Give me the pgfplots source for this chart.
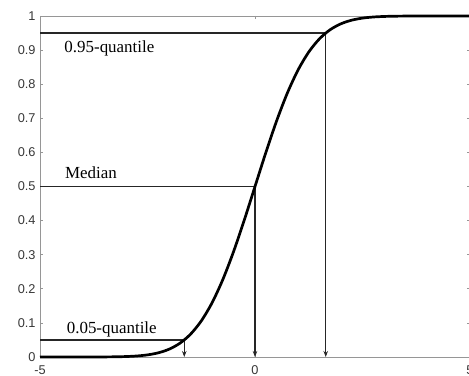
\documentclass[border=0pt]{standalone}
\usepackage{pgfplots}
\pgfplotsset{compat=1.18}
\usepackage{fontspec}
\setmainfont{Liberation Serif}
\newfontfamily\ticksfont{Liberation Sans}
\usetikzlibrary{arrows.meta}
\definecolor{axisgray}{RGB}{150,150,150}
\definecolor{labelgray}{RGB}{55,55,55}

% standard normal CDF, sampled every 0.25
\pgfplotstableread{
x      p
-5.00  0.0000003
-4.75  0.0000010
-4.50  0.0000034
-4.25  0.0000107
-4.00  0.0000317
-3.75  0.0000884
-3.50  0.0002326
-3.25  0.0005770
-3.00  0.0013499
-2.75  0.0029798
-2.50  0.0062097
-2.25  0.0122245
-2.00  0.0227501
-1.75  0.0400592
-1.50  0.0668072
-1.25  0.1056498
-1.00  0.1586553
-0.75  0.2266274
-0.50  0.3085375
-0.25  0.4012937
 0.00  0.5000000
 0.25  0.5987063
 0.50  0.6914625
 0.75  0.7733726
 1.00  0.8413447
 1.25  0.8943502
 1.50  0.9331928
 1.75  0.9599408
 2.00  0.9772499
 2.25  0.9877755
 2.50  0.9937903
 2.75  0.9970202
 3.00  0.9986501
 3.25  0.9994230
 3.50  0.9997674
 3.75  0.9999116
 4.00  0.9999683
 4.25  0.9999893
 4.50  0.9999966
 4.75  0.9999990
 5.00  0.9999997
}\cdftable

\begin{document}
\begin{tikzpicture}
\begin{axis}[
  scale only axis, width=430bp, height=341bp,
  xmin=-5, xmax=5, ymin=0, ymax=1,
  xtick={-5,0,5}, xticklabels={-5,0,5},
  ytick={0,0.1,0.2,0.3,0.4,0.5,0.6,0.7,0.8,0.9,1},
  yticklabels={0,0.1,0.2,0.3,0.4,0.5,0.6,0.7,0.8,0.9,1},
  tick align=inside, major tick length=3bp,
  axis line style={axisgray, line width=0.9bp},
  tick style={axisgray, line width=0.7bp},
  ticklabel style={font=\ticksfont\fontsize{12.8}{13}\selectfont, text=labelgray},
  xticklabel style={yshift=-5bp},
  yticklabel style={xshift=-1bp},
  clip=false,
]
% quantile guides
\addplot[black!85, line width=1.5bp] coordinates {(-5,0.95) (1.6449,0.95)};
\addplot[black!85, line width=1.5bp] coordinates {(-5,0.5) (0,0.5)};
\addplot[black!85, line width=1.5bp] coordinates {(-5,0.05) (-1.6449,0.05)};
\addplot[black!85, line width=1.5bp, -{Stealth[length=6bp,width=4.5bp]}] coordinates {(1.6449,0.95) (1.6449,0)};
\addplot[black!85, line width=1.5bp, -{Stealth[length=6bp,width=4.5bp]}] coordinates {(0,0.5) (0,0)};
\addplot[black!85, line width=1.5bp, -{Stealth[length=6bp,width=4.5bp]}] coordinates {(-1.6449,0.05) (-1.6449,0)};
% CDF curve
\addplot[black, line width=2.7bp, smooth] table[x=x, y=p] {\cdftable};
% labels
\node[anchor=base west, inner sep=0, font=\fontsize{17}{19}\selectfont] at (axis cs:-4.435,0.892) {0.95-quantile};
\node[anchor=base west, inner sep=0, font=\fontsize{17}{19}\selectfont] at (axis cs:-4.42,0.524) {Median};
\node[anchor=base west, inner sep=0, font=\fontsize{17}{19}\selectfont] at (axis cs:-4.38,0.0695) {0.05-quantile};
\end{axis}
\pgfresetboundingbox
\useasboundingbox ([xshift=-40bp,yshift=-19bp]current axis.south west) rectangle ([xshift=-1bp,yshift=16bp]current axis.north east);
\end{tikzpicture}
\end{document}
